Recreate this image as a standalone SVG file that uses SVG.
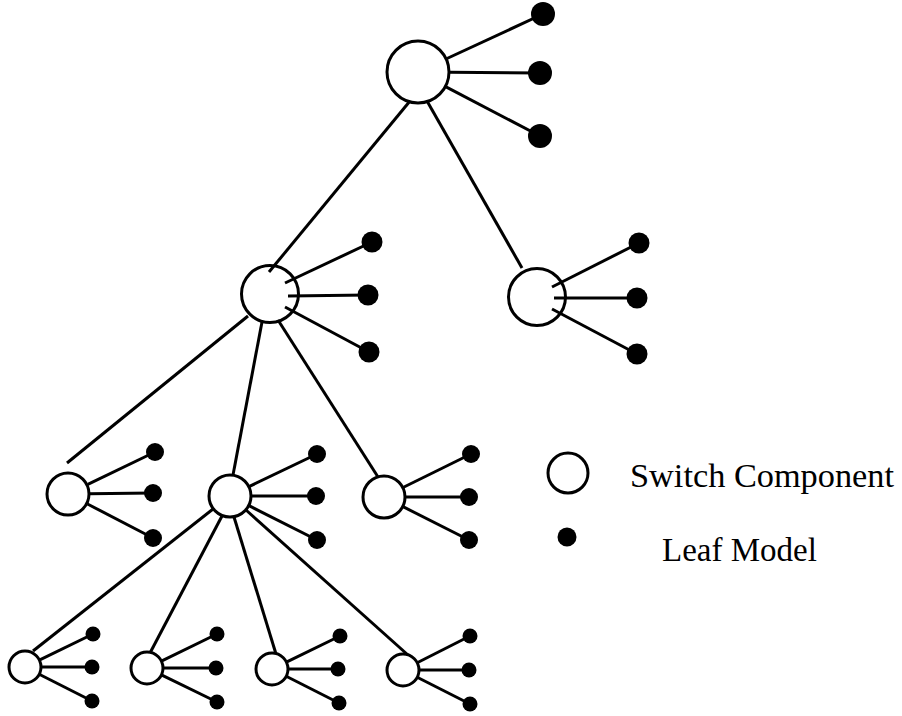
<svg xmlns="http://www.w3.org/2000/svg" width="902" height="716" viewBox="0 0 902 716">
<style>
.sw{fill:#fff;stroke:#000;stroke-width:3}
.lf{fill:#000}
.cn line{stroke:#000;stroke-width:3;stroke-linecap:butt}
.lbl{font-family:"Liberation Serif","DejaVu Serif",serif;font-size:33px;fill:#000}
</style>
<rect width="902" height="716" fill="#fff"/>
<g id="nodes">
<g id="sw-top"><circle class="sw" cx="418" cy="72" r="31"/></g>
<g id="sw-ml"><circle class="sw" cx="270" cy="294" r="28.5"/></g>
<g id="sw-mr"><circle class="sw" cx="537" cy="297" r="28.5"/></g>
<g id="sw-a"><circle class="sw" cx="68" cy="494" r="21"/></g>
<g id="sw-b"><circle class="sw" cx="230" cy="496" r="21"/></g>
<g id="sw-c"><circle class="sw" cx="384" cy="497" r="21"/></g>
<g id="sw-d"><circle class="sw" cx="25" cy="667" r="16"/></g>
<g id="sw-e"><circle class="sw" cx="147" cy="668" r="16"/></g>
<g id="sw-f"><circle class="sw" cx="272" cy="669" r="16"/></g>
<g id="sw-g"><circle class="sw" cx="403" cy="670" r="16"/></g>
<g id="leaves-top">
<circle class="lf" cx="543" cy="14" r="12"/><circle class="lf" cx="540" cy="73" r="12"/><circle class="lf" cx="540" cy="136" r="12"/>
</g>
<g id="leaves-ml">
<circle class="lf" cx="372" cy="242" r="10.5"/><circle class="lf" cx="368" cy="295" r="10.5"/><circle class="lf" cx="369" cy="352" r="10.5"/>
</g>
<g id="leaves-mr">
<circle class="lf" cx="639" cy="243" r="10.5"/><circle class="lf" cx="637" cy="298" r="10.5"/><circle class="lf" cx="637" cy="354" r="10.5"/>
</g>
<g id="leaves-a">
<circle class="lf" cx="155" cy="452" r="9"/><circle class="lf" cx="153" cy="493" r="9"/><circle class="lf" cx="153" cy="538" r="9"/>
</g>
<g id="leaves-b">
<circle class="lf" cx="317" cy="454" r="9"/><circle class="lf" cx="316" cy="496" r="9"/><circle class="lf" cx="317" cy="540" r="9"/>
</g>
<g id="leaves-c">
<circle class="lf" cx="471" cy="454" r="9"/><circle class="lf" cx="469" cy="497" r="9"/><circle class="lf" cx="469" cy="540" r="9"/>
</g>
<g id="leaves-d">
<circle class="lf" cx="93" cy="634" r="7.5"/><circle class="lf" cx="92" cy="667" r="7.5"/><circle class="lf" cx="92" cy="701" r="7.5"/>
</g>
<g id="leaves-e">
<circle class="lf" cx="217" cy="634" r="7.5"/><circle class="lf" cx="216" cy="668" r="7.5"/><circle class="lf" cx="217" cy="702" r="7.5"/>
</g>
<g id="leaves-f">
<circle class="lf" cx="340" cy="636" r="7.5"/><circle class="lf" cx="338" cy="669" r="7.5"/><circle class="lf" cx="339" cy="703" r="7.5"/>
</g>
<g id="leaves-g">
<circle class="lf" cx="470" cy="636" r="7.5"/><circle class="lf" cx="469" cy="670" r="7.5"/><circle class="lf" cx="470" cy="704" r="7.5"/>
</g>
</g>
<g id="connectors" class="cn">
<line x1="447" y1="58.5" x2="543" y2="14"/>
<line x1="449" y1="72.3" x2="540" y2="73"/>
<line x1="446" y1="86.9" x2="540" y2="136"/>
<line x1="410" y1="101" x2="269" y2="272"/>
<line x1="427" y1="101" x2="522" y2="268"/>
<line x1="285" y1="283" x2="372" y2="242"/>
<line x1="288" y1="296" x2="368" y2="295"/>
<line x1="285" y1="307" x2="369" y2="352"/>
<line x1="552" y1="287" x2="639" y2="243"/>
<line x1="554" y1="298" x2="637" y2="298"/>
<line x1="552" y1="309" x2="637" y2="354"/>
<line x1="248" y1="316" x2="67" y2="463"/>
<line x1="262" y1="322" x2="233" y2="475"/>
<line x1="278" y1="320" x2="378" y2="477"/>
<line x1="87.8" y1="484.4" x2="155" y2="452"/>
<line x1="89" y1="493.7" x2="153" y2="493"/>
<line x1="87.5" y1="504" x2="153" y2="538"/>
<line x1="249" y1="486.6" x2="317" y2="454"/>
<line x1="251" y1="496" x2="316" y2="496"/>
<line x1="249" y1="505.7" x2="317" y2="540"/>
<line x1="403" y1="487.5" x2="471" y2="454"/>
<line x1="405" y1="497" x2="469" y2="497"/>
<line x1="403" y1="506.7" x2="469" y2="540"/>
<line x1="213" y1="509" x2="33" y2="651"/>
<line x1="222" y1="516" x2="150" y2="653"/>
<line x1="234" y1="517" x2="276" y2="654"/>
<line x1="246" y1="510" x2="408" y2="655"/>
<line x1="39.8" y1="659.8" x2="93" y2="634"/>
<line x1="41" y1="667" x2="92" y2="667"/>
<line x1="39.7" y1="674.5" x2="92" y2="701"/>
<line x1="161.9" y1="660.8" x2="217" y2="634"/>
<line x1="163" y1="668" x2="216" y2="668"/>
<line x1="161.9" y1="675.2" x2="217" y2="702"/>
<line x1="286.9" y1="661.8" x2="340" y2="636"/>
<line x1="288" y1="669" x2="338" y2="669"/>
<line x1="286.7" y1="676.5" x2="339" y2="703"/>
<line x1="417.7" y1="662.5" x2="470" y2="636"/>
<line x1="419" y1="670" x2="469" y2="670"/>
<line x1="417.7" y1="677.5" x2="470" y2="704"/>
</g>
<g id="legend">
<g id="legend-switch"><circle class="sw" cx="568" cy="473" r="20"/><text class="lbl" x="630" y="487" textLength="264" lengthAdjust="spacingAndGlyphs">Switch Component</text></g>
<g id="legend-leaf"><circle class="lf" cx="567" cy="537" r="9.5"/><text class="lbl" x="662" y="561">Leaf Model</text></g>
</g>
</svg>
